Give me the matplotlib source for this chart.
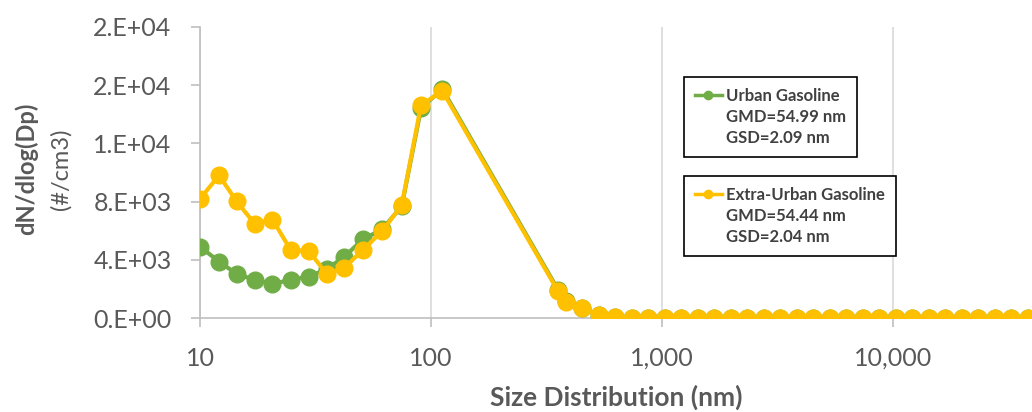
import matplotlib.pyplot as plt
from matplotlib.lines import Line2D
from matplotlib.ticker import FuncFormatter, FixedLocator, NullLocator

plt.rcParams['font.family'] = ['Lato', 'DejaVu Sans']

# particle size channels (nm)
size_nm = [10.0, 12.1, 14.4, 17.3, 20.6, 24.7, 29.6, 35.4, 42.2, 50.6, 61.4, 74.7, 90.6, 112.0,
           354.6, 384, 452.7, 533.6, 629, 741.5, 874, 1030, 1215, 1432, 1688, 1990, 2345,
           2765, 3259, 3842, 4529, 5338, 6293, 7418, 8744, 10307, 12150, 14322, 16883,
           19901, 23459, 27653, 32597, 38424]

# dN/dlog(Dp) (#/cm3)
urban = [4900, 3880, 3030, 2620, 2350, 2620, 2850, 3370, 4220, 5400, 6090, 7680, 14430, 15730,
         1950, 1150, 700, 210, 60, 30, 15, 8, 4, 2, 0, 0, 0, 0, 0, 0,
         0, 0, 0, 0, 0, 0, 0, 0, 0, 0, 0, 0, 0, 0]
extra_urban = [8200, 9800, 8020, 6450, 6770, 4670, 4600, 3030, 3460, 4670, 5970, 7750, 14630, 15610,
               1860, 1120, 690, 200, 60, 30, 15, 8, 4, 2, 0, 0, 0, 0, 0, 0,
               0, 0, 0, 0, 0, 0, 0, 0, 0, 0, 0, 0, 0, 0]

y_ticks = [0, 4000, 8000, 12000, 16000, 20000]
x_ticks = [10, 100, 1000, 10000]

green = '#70AD47'
yellow = '#FFC000'
txt = '#595959'

fig, ax = plt.subplots(figsize=(10.32, 4.12), dpi=100)
fig.subplots_adjust(left=0.1938, right=1.0, bottom=0.228, top=0.9345)

ax.plot(size_nm, urban, '-o', color=green, lw=3, ms=12, zorder=3)
ax.plot(size_nm, extra_urban, '-o', color=yellow, lw=3, ms=12, zorder=4)

ax.set_xscale('log')
ax.set_xlim(10, 40000)
ax.set_ylim(0, 20000)
ax.xaxis.set_major_locator(FixedLocator(x_ticks))
ax.xaxis.set_minor_locator(NullLocator())
ax.yaxis.set_major_locator(FixedLocator(y_ticks))
ax.xaxis.set_major_formatter(FuncFormatter(lambda v, p: f'{v:,.0f}'))
ax.yaxis.set_major_formatter(FuncFormatter(lambda v, p: f'{v:#.0E}'))

ax.grid(axis='x', color='#D9D9D9', lw=1.2)
ax.set_axisbelow(True)
for s in ['top', 'right']:
    ax.spines[s].set_visible(False)
for s in ['left', 'bottom']:
    ax.spines[s].set_color('#BFBFBF')
    ax.spines[s].set_linewidth(1.2)
ax.tick_params(axis='both', colors='#BFBFBF', labelcolor=txt, labelsize=18, length=6.5, width=1.2, pad=14)

ax.set_xlabel('Size Distribution (nm)', fontsize=19, fontweight='bold', color=txt)
ax.xaxis.set_label_coords(0.5, -0.23)

fig.text(26 / 1032, 1 - 169 / 412, 'dN/dlog(Dp)', rotation=90, ha='center', va='center',
         fontsize=17, fontweight='bold', color=txt)
fig.text(61 / 1032, 1 - 169 / 412, '(#/cm3)', rotation=90, ha='center', va='center',
         fontsize=17, color=txt)

blank = Line2D([], [], alpha=0)
legend_style = dict(loc='upper left', frameon=True, fancybox=False, edgecolor='black',
                    framealpha=1, prop={'weight': 'bold', 'size': 12}, labelcolor='#404040',
                    handlelength=1.6, handletextpad=0.25, labelspacing=0.3, borderpad=0.65,
                    borderaxespad=0)
h1 = Line2D([], [], color=green, marker='o', ms=6, lw=2.5)
h2 = Line2D([], [], color=yellow, marker='o', ms=6, lw=2.5)
leg1 = ax.legend([h1, blank, blank], ['Urban Gasoline', 'GMD=54.99 nm', 'GSD=2.09 nm'],
                 bbox_to_anchor=(0.582, 0.828), **legend_style)
leg1.get_frame().set_linewidth(1.2)
ax.add_artist(leg1)
leg2 = ax.legend([h2, blank, blank], ['Extra-Urban Gasoline', 'GMD=54.44 nm', 'GSD=2.04 nm'],
                 bbox_to_anchor=(0.582, 0.488), **legend_style)
leg2.get_frame().set_linewidth(1.2)

fig.savefig('out.png', dpi=100)
